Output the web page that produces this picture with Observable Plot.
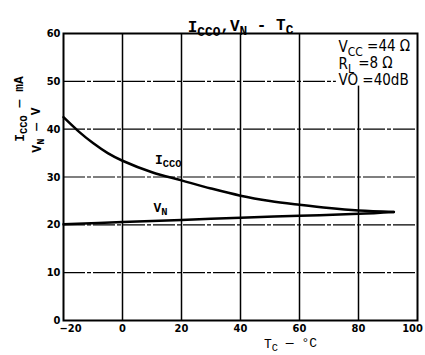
<!DOCTYPE html>
<html><head><meta charset="utf-8">
<script src="https://cdn.jsdelivr.net/npm/d3@7"></script>
<script src="https://cdn.jsdelivr.net/npm/@observablehq/plot@0.6"></script>
<style>body{margin:0;background:#fff}</style>
</head><body><div id="chart"></div>
<script>
const iccoTemps = [-20, -15, -10, -5, 0, 10, 20, 30, 40, 50, 60, 70, 80, 92];
const iccoValues = [42.5, 39.6, 37.1, 35.0, 33.4, 31.0, 29.3, 27.6, 26.1, 25.0, 24.2, 23.5, 23.0, 22.7];
const vnTemps = [-20, 0, 20, 40, 60, 80, 92];
const vnValues = [20.1, 20.6, 21.0, 21.5, 21.9, 22.3, 22.7];
const xTicks = [-20, 0, 20, 40, 60, 80, 100];
const yTicks = [0, 10, 20, 30, 40, 50, 60];
const titleText = "I_{CCO},V_{N} - T_{C}";
const xLabel = "T_{C} — °C";
const yLabel1 = "I_{CCO} — mA";
const yLabel2 = "V_{N} — V";
const notes = ["V_{CC} =44 Ω", "R_{L} =8 Ω", "VO =40dB"];
const noteBox = {x1: 72.5, x2: 100, y1: 49, y2: 60};
const curveLabels = [{x: 11, y: 33.6, t: "I_{CCO}"}, {x: 10.5, y: 23.6, t: "V_{N}"}];

const icco = iccoTemps.map((x, i) => ({x, y: iccoValues[i]}));
const vn = vnTemps.map((x, i) => ({x, y: vnValues[i]}));
// grid rules stop where the notes panel begins
const gridXData = xTicks.slice(1, -1).map(x => ({x, y1: 0, y2: (x > noteBox.x1 && x < noteBox.x2) ? noteBox.y1 : 60}));
const gridYData = yTicks.slice(1, -1).map(y => ({y, x1: -20, x2: (y > noteBox.y1 && y < noteBox.y2) ? noteBox.x1 : 100}));

const mono = "Liberation Mono, DejaVu Sans Mono, monospace";
const tickFont = {fontSize: 11, fontWeight: "bold", fontFamily: "DejaVu Sans Condensed, DejaVu Sans"};
const noteFont = {fontSize: 15, fontFamily: "Liberation Sans Narrow, DejaVu Sans Condensed, sans-serif", frameAnchor: "top-right", textAnchor: "start", dx: -79};
const noteDy = [8, 25, 41];
const svg = Plot.plot({
  width: 425, height: 355,
  marginLeft: 63, marginRight: 8, marginTop: 33, marginBottom: 35,
  style: {background: "#fff", color: "#000"},
  x: {domain: [-20, 100], ticks: xTicks},
  y: {domain: [0, 60], ticks: yTicks},
  marks: [
    Plot.ruleY(gridYData, {y: "y", x1: "x1", x2: "x2", stroke: "#000", strokeWidth: 1.2, strokeDasharray: "22,2,4,2"}),
    Plot.ruleX(gridXData, {x: "x", y1: "y1", y2: "y2", stroke: "#000", strokeWidth: 1.5}),
    Plot.frame({stroke: "#000", strokeWidth: 2}),
    Plot.axisX(xTicks.slice(1, -1), {tickSize: 0, tickPadding: 4, label: null, ...tickFont}),
    Plot.axisX(xTicks.slice(0, 1), {tickSize: 0, tickPadding: 4, label: null, dx: 7, ...tickFont}),
    Plot.axisX(xTicks.slice(-1), {tickSize: 0, tickPadding: 4, label: null, dx: -5, ...tickFont}),
    Plot.axisY(yTicks, {tickSize: 0, tickPadding: 3, label: null, ...tickFont}),
    Plot.line(icco, {x: "x", y: "y", curve: "catmull-rom", stroke: "#000", strokeWidth: 2.5}),
    Plot.line(vn, {x: "x", y: "y", curve: "catmull-rom", stroke: "#000", strokeWidth: 2.5}),
    Plot.text(curveLabels, {x: "x", y: "y", text: "t", textAnchor: "start", fontSize: 13, fontFamily: mono, fontWeight: "bold"}),
    Plot.text([titleText], {frameAnchor: "top", dy: -13, fontSize: 16, fontFamily: mono, fontWeight: "bold"}),
    Plot.text([xLabel], {frameAnchor: "bottom", dx: 50, dy: 27, fontSize: 13, fontFamily: mono}),
    Plot.text([yLabel1], {frameAnchor: "left", textAnchor: "middle", dx: -44, dy: -68, rotate: -90, fontSize: 13, fontFamily: mono, fontWeight: "bold"}),
    Plot.text([yLabel2], {frameAnchor: "left", textAnchor: "middle", dx: -27, dy: -47, rotate: -90, fontSize: 13, fontFamily: mono, fontWeight: "bold"}),
    ...notes.map((n, i) => Plot.text([n], {...noteFont, dy: noteDy[i]}))
  ]
});
// subscripts
svg.querySelectorAll("text").forEach(t => {
  const s = t.textContent;
  if (!s.includes("_{")) return;
  const fs = parseFloat(t.getAttribute("font-size") || t.parentNode.getAttribute("font-size")) || 13;
  while (t.firstChild) t.removeChild(t.firstChild);
  const parts = s.split(/(_\{[^}]*\})/).filter(p => p.length);
  let shifted = false;
  parts.forEach(p => {
    const ts = document.createElementNS("http://www.w3.org/2000/svg", "tspan");
    if (p.startsWith("_{")) {
      ts.textContent = p.slice(2, -1);
      ts.setAttribute("font-size", fs * 0.8);
      ts.setAttribute("dy", "0.3em");
      shifted = true;
    } else {
      ts.textContent = p;
      if (shifted) { ts.setAttribute("dy", "-0.3em"); shifted = false; }
    }
    t.appendChild(ts);
  });
});
document.getElementById("chart").appendChild(svg);
</script>
</body></html>
